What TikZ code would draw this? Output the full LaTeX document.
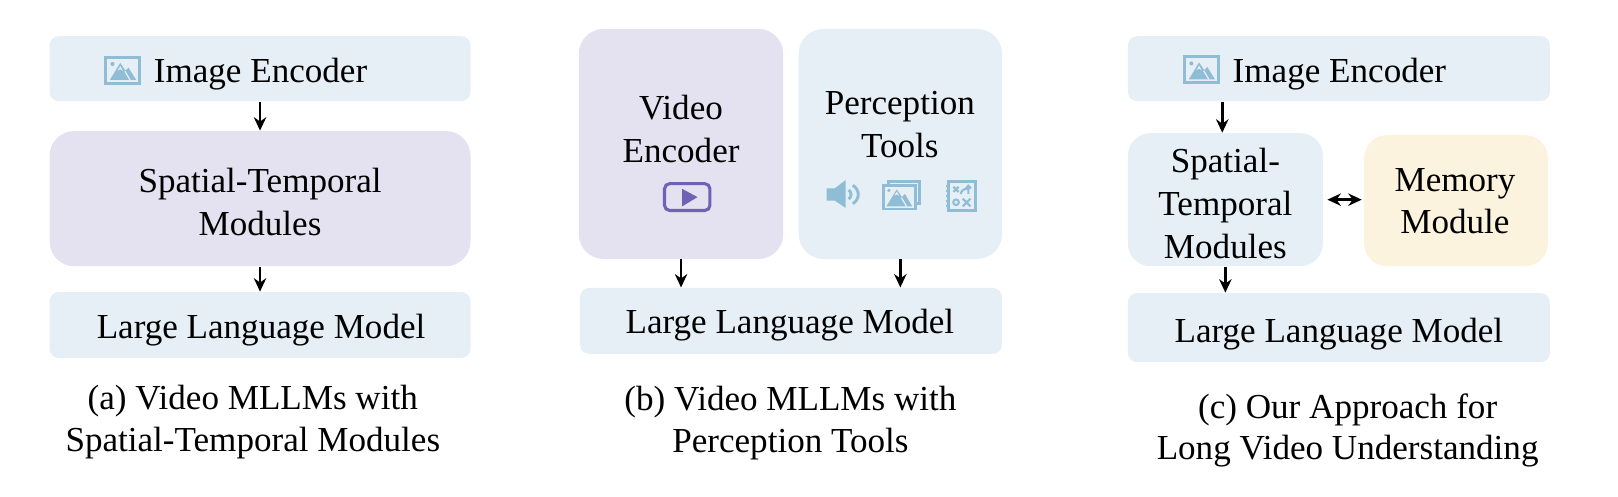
\documentclass[tikz,border=0pt]{standalone}
\usepackage{fontspec}
\setmainfont{Liberation Serif}
\usetikzlibrary{arrows.meta,calc}
\definecolor{boxblue}{HTML}{E6EFF5}
\definecolor{boxpurple}{HTML}{E4E2F0}
\definecolor{boxyellow}{HTML}{FCF3DF}
\definecolor{iconblue}{HTML}{8FBDD6}
\definecolor{iconpurple}{HTML}{6F62B5}
\tikzset{
  panel/.style={rectangle,inner sep=0pt},
  smallpanel/.style={panel,rounded corners=4.5pt},
  bigpanel/.style={panel,rounded corners=12pt},
  paneltext/.style={inner sep=0pt,align=center,font=\fontsize{17}{20.7}\selectfont,text=black},
  caption/.style={inner sep=0pt,align=center,font=\fontsize{17}{20}\selectfont,text=black},
  link/.style={draw=black,line width=1.25pt,-{Stealth[length=6.5pt,width=6pt]}},
  linkboth/.style={draw=black,line width=1.25pt,{Stealth[length=6.5pt,width=6pt]}-{Stealth[length=6.5pt,width=6pt]}},
  pics/imgicon/.style={code={
    \draw[iconblue,line width=1.5pt] (0,0) rectangle (33,25);
    \fill[iconblue] (4,22) -- (14,5.5) -- (19,13) -- (22,10) -- (29.5,22) -- cycle;
    \fill[iconblue] (6.5,6.5) circle (2);
    \fill[boxblue] (11.5,13) -- (14,8.5) -- (16.5,13) -- (14,11.5) -- cycle;
    \draw[boxblue,line width=.6pt] (18.5,13.5) -- (23.5,22);
  }},
  pics/stackicon/.style={code={
    \draw[iconblue,line width=1.4pt] (5,3) -- (5,0) -- (35,0) -- (35,22) -- (31,22);
    \draw[iconblue,line width=1.4pt,fill=boxblue] (0,4) rectangle (31,27);
    \fill[iconblue] (3,24.5) -- (13,8) -- (18,15.5) -- (21,12.5) -- (28,24.5) -- cycle;
    \fill[iconblue] (5.5,9) circle (1.8);
    \fill[boxblue] (10.8,14) -- (13,10) -- (15.2,14) -- (13,13) -- cycle;
    \draw[boxblue,line width=.6pt] (17.5,16) -- (22.5,24.5);
  }},
  pics/speakericon/.style={code={
    \fill[iconblue] (0,8) -- (8,8) -- (18.5,0) -- (18.5,27) -- (8,20) -- (0,20) -- cycle;
    \draw[iconblue,line width=1.4pt] (21.5,9.5) .. controls (24.5,12) and (24.5,16) .. (21.5,18.5);
    \draw[iconblue,line width=1.4pt] (25.5,5) .. controls (32.5,10) and (32.5,18) .. (25.5,23);
  }},
  pics/mapicon/.style={code={
    \draw[iconblue,line width=1.5pt] (2.5,0) rectangle (28,28);
    \draw[iconblue,line width=1pt] (0,4) -- (3,4) (0,9) -- (3,9) (0,14) -- (3,14) (0,19) -- (3,19) (0,24) -- (3,24);
    \draw[iconblue,line width=1pt] (7,5) -- (12,10) (12,5) -- (7,10);
    \draw[iconblue,line width=1pt] (14,12) .. controls (15,8) and (17,7) .. (21,7);
    \draw[iconblue,line width=1pt] (21.5,12) -- (21.5,4) (19,6.5) -- (21.5,4) -- (24,6.5);
    \draw[iconblue,line width=1pt] (9.5,20) circle (2.7);
    \draw[iconblue,line width=1pt] (16,16.5) -- (23.5,24) (23.5,16.5) -- (16,24);
  }},
  pics/playicon/.style={code={
    \draw[iconpurple,line width=1.5pt,rounded corners=2.5pt] (0,0) rectangle (44,26);
    \fill[iconpurple] (17,5) -- (32,13) -- (17,22) -- cycle;
  }}
}
\begin{document}
\begin{tikzpicture}[x=0.5pt,y=-0.5pt]
\useasboundingbox (0,0) rectangle (1568,480.7);
% (a)
\node[smallpanel,fill=boxblue,minimum width=204pt,minimum height=31.5pt] (aimg) at (252,66.5) {};
\node[paneltext] (aimgt) at (252.5,71.5) {Image Encoder};
\node[bigpanel,fill=boxpurple,minimum width=204pt,minimum height=65.5pt] (ast) at (252,192.5) {};
\node[paneltext] (astt) at (252,195.5) {Spatial-Temporal\\Modules};
\node[smallpanel,fill=boxblue,minimum width=204pt,minimum height=32pt] (allm) at (252,315) {};
\node[paneltext] (allmt) at (253,320) {Large Language Model};
\node[caption] (acap) at (245,409) {(a) Video MLLMs with\\Spatial-Temporal Modules};
\draw[link] (aimg.south) -- (ast.north);
\draw[link] (ast.south) -- (allm.north);
\pic at (102.5,55.5) {imgicon};
% (b)
\node[bigpanel,fill=boxpurple,minimum width=99pt,minimum height=111.5pt] (bvid) at (660,139.5) {};
\node[paneltext] (bvidt) at (660,125) {Video\\Encoder};
\node[bigpanel,fill=boxblue,minimum width=98.5pt,minimum height=111.5pt] (bper) at (872.5,139.5) {};
\node[paneltext] (bpert) at (872,121) {Perception\\Tools};
\node[smallpanel,fill=boxblue,minimum width=204.5pt,minimum height=32pt] (bllm) at (766.5,311) {};
\node[paneltext] (bllmt) at (765.5,315) {Large Language Model};
\node[caption] (bcap) at (766,410) {(b) Video MLLMs with\\Perception Tools};
\draw[link] (bvid.south) -- (bvid.south |- bllm.north);
\draw[link] (bper.south) -- (bper.south |- bllm.north);
\pic at (644,178) {playicon};
\pic at (801,174.5) {speakericon};
\pic at (856,175.5) {stackicon};
\pic at (917,176) {mapicon};
% (c)
\node[smallpanel,fill=boxblue,minimum width=204.5pt,minimum height=31.5pt] (cimg) at (1297.5,66.5) {};
\node[paneltext] (cimgt) at (1298,71.5) {Image Encoder};
\node[bigpanel,rounded corners=11pt,fill=boxblue,minimum width=94.5pt,minimum height=64.5pt] (cst) at (1187.5,193.5) {};
\node[paneltext] (cstt) at (1187.5,197) {Spatial-\\Temporal\\Modules};
\node[bigpanel,rounded corners=11pt,fill=boxyellow,minimum width=89pt,minimum height=63.5pt] (cmem) at (1411,194.5) {};
\node[paneltext] (cmemt) at (1410,195) {Memory\\Module};
\node[smallpanel,fill=boxblue,minimum width=204.5pt,minimum height=33.5pt] (cllm) at (1297.5,317.5) {};
\node[paneltext] (cllmt) at (1297.5,323.5) {Large Language Model};
\node[caption] (ccap) at (1306,417) {(c) Our Approach for\\Long Video Understanding};
\draw[link] ([xshift=-1.5pt]cst.north |- cimg.south) -- ([xshift=-1.5pt]cst.north);
\draw[link] (cst.south) -- (cst.south |- cllm.north);
\draw[linkboth] ([xshift=2pt]cst.east) -- ([xshift=-1pt]cst.east -| cmem.west);
\pic at (1148,55) {imgicon};
\end{tikzpicture}
\end{document}
